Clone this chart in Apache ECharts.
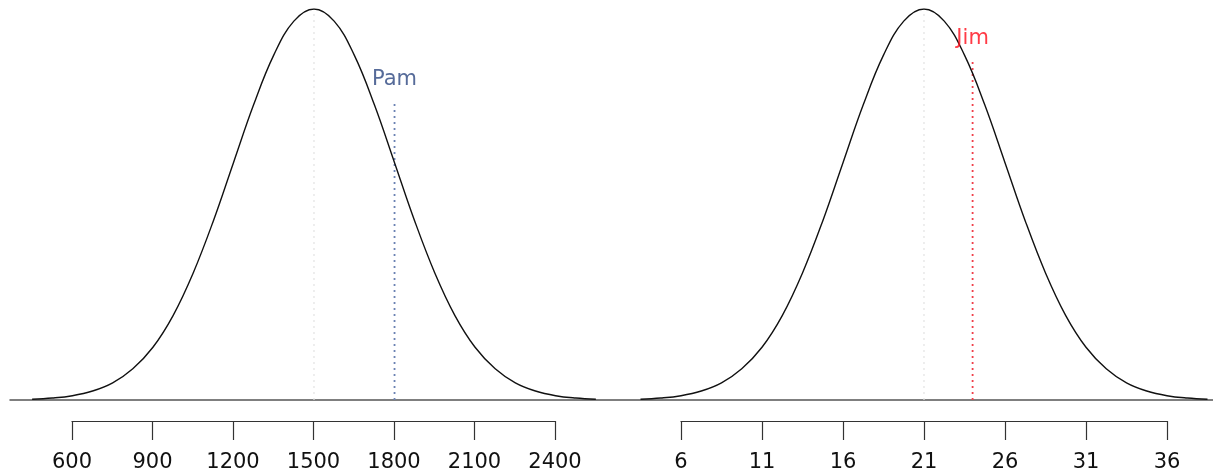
<!DOCTYPE html>
<html>
<head>
<meta charset="utf-8">
<script src="https://cdn.jsdelivr.net/npm/echarts@6/dist/echarts.min.js"></script>
<style>
html,body{margin:0;padding:0;background:#fff;}
#c{width:1213px;height:472px;}
</style>
</head>
<body>
<div id="c"></div>
<script>
// Left panel (SAT-like scale): curve points (height as % of peak)
var satX = [450,525,600,675,750,825,900,975,1050,1125,1200,1275,1350,1425,1500,1575,1650,1725,1800,1875,1950,2025,2100,2175,2250,2325,2400,2475,2550];
var satY = [0.2,0.5,1.1,2.3,4.4,8.0,13.5,21.6,32.5,45.8,60.7,75.5,88.2,96.9,100,96.9,88.2,75.5,60.7,45.8,32.5,21.6,13.5,8.0,4.4,2.3,1.1,0.5,0.2];
var satTicks = [600,900,1200,1500,1800,2100,2400];
var satMean = 1500;
var pamScore = 1800;
var pamLineTop = 76;
var pamLabelY = 82;
var pamName = "Pam";

// Right panel (ACT-like scale)
var actX = [3.5,4.75,6,7.25,8.5,9.75,11,12.25,13.5,14.75,16,17.25,18.5,19.75,21,22.25,23.5,24.75,26,27.25,28.5,29.75,31,32.25,33.5,34.75,36,37.25,38.5];
var actY = [0.2,0.5,1.1,2.3,4.4,8.0,13.5,21.6,32.5,45.8,60.7,75.5,88.2,96.9,100,96.9,88.2,75.5,60.7,45.8,32.5,21.6,13.5,8.0,4.4,2.3,1.1,0.5,0.2];
var actTicks = [6,11,16,21,26,31,36];
var actMean = 21;
var jimScore = 24;
var jimLineTop = 87;
var jimLabelY = 92.5;
var jimName = "Jim";

function pairs(xs, ys){ return xs.map(function(x,i){ return [x, ys[i]]; }); }

var FONT = "'DejaVu Sans', 'Liberation Sans', Arial, sans-serif";
var chart = echarts.init(document.getElementById('c'), null, {renderer:'canvas'});

var hiddenY = function(g){ return {gridIndex:g, type:'value', min:0, max:100, show:false}; };
var tickAxis = function(g, ticks, interval){
  return {gridIndex:g, type:'value', min:ticks[0], max:ticks[ticks.length-1], interval:interval,
    axisLine:{show:true, onZero:false, lineStyle:{color:'#333', width:1.2}},
    axisTick:{show:true, length:19, lineStyle:{color:'#333', width:1.2}},
    axisLabel:{show:true, margin:31, color:'#111', fontSize:21, fontFamily:FONT,
      showMinLabel:true, showMaxLabel:true,
      formatter:function(v){ return String(v); }},
    splitLine:{show:false}};
};
var G = function(o){ o.outerBoundsMode = 'none'; o.containLabel = false; return o; };

chart.setOption({
  animation:false,
  backgroundColor:'#fff',
  grid:[
    G({left:12, width:604, top:9, height:391}),     // 0 left curve
    G({left:72, width:483, top:0, height:421}),     // 1 left tick axis
    G({left:624.3, width:591.3, top:9, height:391}),// 2 right curve
    G({left:681, width:486, top:0, height:421}),    // 3 right tick axis
    G({left:10, right:0, top:0, height:400})        // 4 baseline
  ],
  xAxis:[
    {gridIndex:0, type:'value', min:375, max:2625, show:false},
    tickAxis(1, satTicks, 300),
    {gridIndex:2, type:'value', min:2.5, max:39, show:false},
    tickAxis(3, actTicks, 5),
    {gridIndex:4, type:'value', min:0, max:1,
      axisLine:{show:true, onZero:false, lineStyle:{color:'#555', width:1.5}},
      axisTick:{show:false}, axisLabel:{show:false}, splitLine:{show:false}}
  ],
  yAxis:[hiddenY(0), hiddenY(1), hiddenY(2), hiddenY(3), hiddenY(4)],
  series:[
    {type:'line', xAxisIndex:0, yAxisIndex:0, data:[[satMean,0],[satMean,100]], symbol:'none',
      lineStyle:{color:'#e2e2e2', width:1.2, type:[2,4]}, silent:true},
    {type:'line', xAxisIndex:2, yAxisIndex:2, data:[[actMean,0],[actMean,100]], symbol:'none',
      lineStyle:{color:'#e2e2e2', width:1.2, type:[2,4]}, silent:true},
    {type:'line', xAxisIndex:0, yAxisIndex:0, data:[[pamScore,0],[pamScore,pamLineTop]], symbol:'none',
      lineStyle:{color:'#6b82b3', width:1.8, type:[2,4]}, silent:true},
    {type:'line', xAxisIndex:2, yAxisIndex:2, data:[[jimScore,0],[jimScore,jimLineTop]], symbol:'none',
      lineStyle:{color:'#f0404a', width:1.8, type:[2,4]}, silent:true},
    {type:'line', xAxisIndex:0, yAxisIndex:0, data:pairs(satX, satY), symbol:'none', smooth:0.4,
      lineStyle:{color:'#111', width:1.4}, z:5},
    {type:'line', xAxisIndex:2, yAxisIndex:2, data:pairs(actX, actY), symbol:'none', smooth:0.4,
      lineStyle:{color:'#111', width:1.4}, z:5},
    {type:'scatter', xAxisIndex:0, yAxisIndex:0, data:[[pamScore,pamLabelY]], symbolSize:0,
      label:{show:true, position:'inside', formatter:pamName, color:'#2c4680', fontSize:21, fontFamily:FONT}, z:6},
    {type:'scatter', xAxisIndex:2, yAxisIndex:2, data:[[jimScore,jimLabelY]], symbolSize:0,
      label:{show:true, position:'inside', formatter:jimName, color:'#ff0a18', fontSize:21, fontFamily:FONT}, z:6}
  ]
});
</script>
</body>
</html>
